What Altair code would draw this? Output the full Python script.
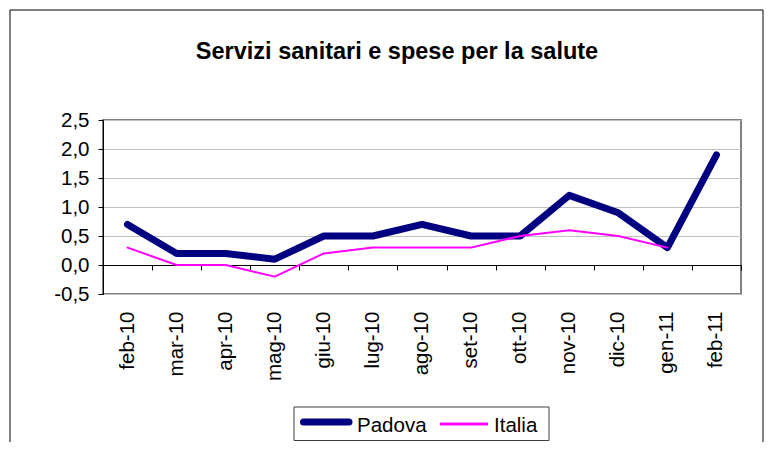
import altair as alt
import pandas as pd

months = ["feb-10", "mar-10", "apr-10", "mag-10", "giu-10", "lug-10", "ago-10",
          "set-10", "ott-10", "nov-10", "dic-10", "gen-11", "feb-11"]
padova = [0.7, 0.2, 0.2, 0.1, 0.5, 0.5, 0.7, 0.5, 0.5, 1.2, 0.9, 0.3, 1.9]
italia = [0.3, 0.0, 0.0, -0.2, 0.2, 0.3, 0.3, 0.3, 0.5, 0.6, 0.5, 0.3, None]
series = ["Padova", "Italia"]
colors = ["#000080", "#FF00FF"]
widths = [7, 2]
y_ticks = [-0.5, 0.0, 0.5, 1.0, 1.5, 2.0, 2.5]
title_text = "Servizi sanitari e spese per la salute"

rows = []
for m, p, i in zip(months, padova, italia):
    rows.append({"mese": m, "serie": "Padova", "valore": p})
    if i is not None:
        rows.append({"mese": m, "serie": "Italia", "valore": i})
df = pd.DataFrame(rows)

FONT = "Liberation Sans"
FS = 20.5
W, H = 638, 174

x_scale = alt.Scale(type="band", domain=months, paddingInner=0, paddingOuter=0)
y_scale = alt.Scale(domain=[-0.5, 2.5], nice=False, zero=False)

y_axis = alt.Axis(title=None, values=y_ticks,
                  labelExpr="replace(replace(format(datum.value, '.1f'), '.', ','), '\u2212', '-')",
                  labelFont=FONT, labelFontSize=FS, labelColor="black",
                  labelOverlap=False, labelFlush=False,
                  tickSize=5, tickColor="black", domainColor="black",
                  labelPadding=9, grid=True, gridColor="#c0c0c0", gridWidth=1)

lines = alt.Chart(df).mark_line(strokeCap="round", strokeJoin="round").encode(
    x=alt.X("mese:N", scale=x_scale, sort=months, bandPosition=0.5,
            axis=alt.Axis(title=None, orient="bottom", domain=False, ticks=False,
                          labelAngle=270, labelFont=FONT, labelFontSize=FS,
                          labelColor="black", labelPadding=17, labelAlign="right",
                          labelBaseline="middle", grid=False, labelOverlap=False)),
    y=alt.Y("valore:Q", scale=y_scale, axis=y_axis),
    color=alt.Color("serie:N", scale=alt.Scale(domain=series, range=colors), legend=None),
    strokeWidth=alt.StrokeWidth("serie:N", scale=alt.Scale(domain=series, range=widths),
                                legend=None),
    order=alt.Order("serie:N", sort="descending"),
)

zero_axis = alt.Chart(df).mark_point(opacity=0).encode(
    x=alt.X("mese:N", scale=x_scale, sort=months,
            axis=alt.Axis(title=None, orient="bottom", offset=-29, labels=False,
                          domain=True, ticks=True, tickBand="extent", tickSize=5,
                          domainColor="black", tickColor="black", grid=False)),
    y=alt.Y("valore:Q", scale=y_scale, axis=y_axis),
)

one = pd.DataFrame({"a": [0]})

frame = alt.Chart(one).mark_rect(fill="transparent", stroke="black", strokeWidth=1).encode(
    x=alt.value(-93), x2=alt.value(660), y=alt.value(-110), y2=alt.value(400)
)

title = alt.Chart(one).mark_text(font=FONT, fontSize=23.5, fontWeight="bold",
                                 color="black", align="center", baseline="alphabetic").encode(
    x=alt.value(294), y=alt.value(-61), text=alt.value(title_text)
)

legend_box = alt.Chart(one).mark_rect(fill="white", stroke="#404040", strokeWidth=1).encode(
    x=alt.value(191), x2=alt.value(446), y=alt.value(287), y2=alt.value(320.5)
)
leg_pad_line = alt.Chart(one).mark_rule(color=colors[0], strokeWidth=widths[0],
                                        strokeCap="round").encode(
    x=alt.value(200.5), x2=alt.value(246), y=alt.value(302)
)
leg_pad_text = alt.Chart(one).mark_text(font=FONT, fontSize=FS, color="black",
                                        align="left", baseline="alphabetic").encode(
    x=alt.value(254), y=alt.value(312), text=alt.value(series[0])
)
leg_ita_line = alt.Chart(one).mark_rule(color=colors[1], strokeWidth=widths[1] + 1).encode(
    x=alt.value(337), x2=alt.value(385), y=alt.value(304)
)
leg_ita_text = alt.Chart(one).mark_text(font=FONT, fontSize=FS, color="black",
                                        align="left", baseline="alphabetic").encode(
    x=alt.value(391), y=alt.value(312), text=alt.value(series[1])
)

chart = alt.layer(frame, title, zero_axis, lines, legend_box, leg_pad_line, leg_pad_text,
                  leg_ita_line, leg_ita_text).resolve_axis(x="independent").properties(
    width=W, height=H,
    autosize=alt.AutoSizeParams(type="none"),
    padding={"left": 95, "top": 112, "right": 24, "bottom": 148},
).configure_view(stroke="#808080", strokeWidth=2)

chart.save("out.html", embed_options={"renderer": "svg", "actions": False})
